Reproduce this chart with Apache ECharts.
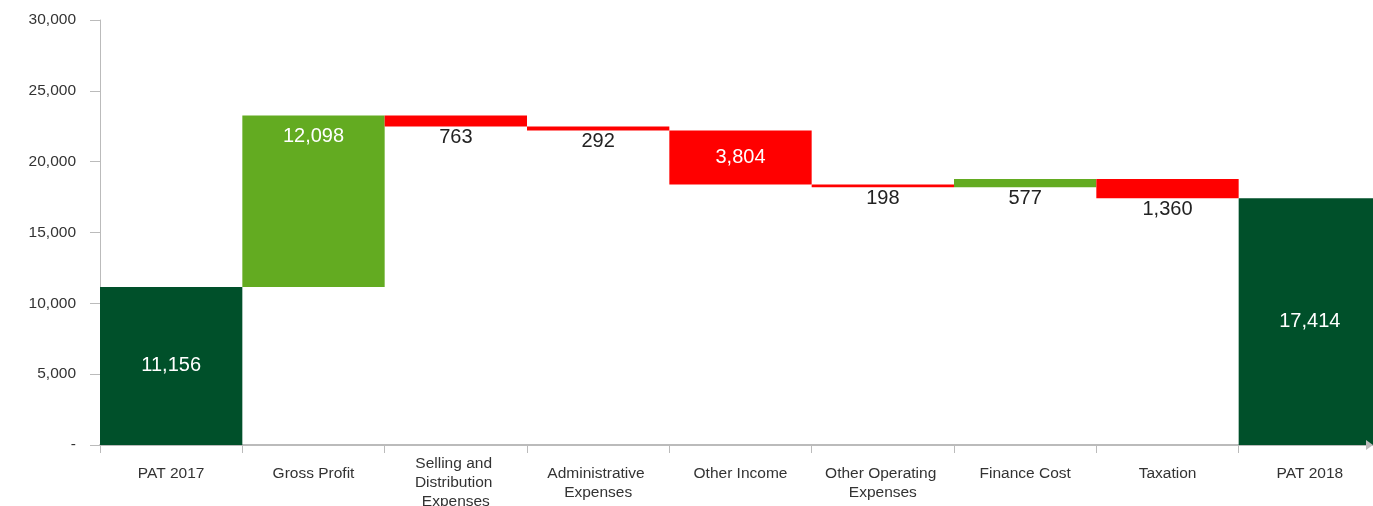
<!DOCTYPE html>
<html>
<head>
<meta charset="utf-8">
<script src="https://cdn.jsdelivr.net/npm/echarts@6/dist/echarts.min.js"></script>
<style>html,body{margin:0;padding:0;background:#fff}#c{width:1373px;height:506px}</style>
</head>
<body>
<div id="c"></div>
<script>
var categories = ['PAT 2017', 'Gross Profit', 'Selling and Distribution Expenses', 'Administrative Expenses', 'Other Income', 'Other Operating Expenses', 'Finance Cost', 'Taxation', 'PAT 2018'];
var changes = [11156, 12098, -763, -292, -3804, -198, 577, -1360, 17414];
var kinds = ['total', 'up', 'down', 'down', 'down', 'down', 'up', 'down', 'total'];
var yTicks = [0, 5000, 10000, 15000, 20000, 25000, 30000];

var colors = { total: '#00502A', up: '#63AB21', down: '#FF0000' };
var labelPlace = ['inside', 'insideTop', 'bottom', 'bottom', 'inside', 'bottom', 'bottom', 'bottom', 'inside'];
var FONT = 'Liberation Sans, Arial, sans-serif';

var base = [], size = [], running = 0;
for (var i = 0; i < changes.length; i++) {
  var v = changes[i];
  if (kinds[i] === 'total') { base.push(0); size.push(v); running = v; }
  else if (v >= 0) { base.push(running); size.push(v); running += v; }
  else { running += v; base.push(running); size.push(-v); }
}

function fmt(n) { return Math.abs(n).toLocaleString('en-US'); }

var barData = size.map(function (s, i) {
  var pos = labelPlace[i];
  var inside = pos !== 'bottom';
  return {
    value: s,
    itemStyle: { color: colors[kinds[i]] },
    label: {
      show: true,
      position: pos,
      distance: pos === 'insideTop' ? 11 : 1,
      color: inside ? '#ffffff' : '#222222',
      fontSize: 20,
      fontFamily: FONT,
      formatter: fmt(changes[i])
    }
  };
});

// the three-line category label starts a line higher, as in the reference
var RAISED = 2;
var catData = categories.map(function (c, i) {
  if (i === RAISED) {
    return { value: c, textStyle: { verticalAlign: 'middle' } };
  }
  return c;
});

var chart = echarts.init(document.getElementById('c'), null, { renderer: 'canvas' });
chart.setOption({
  animation: false,
  grid: { left: 100, top: 20, width: 1281, height: 425, containLabel: false, outerBoundsMode: 'none' },
  xAxis: {
    type: 'category',
    data: catData,
    axisLine: { lineStyle: { color: '#BBBBBB', width: 2 } },
    axisTick: { show: true, alignWithLabel: false, length: 8, lineStyle: { color: '#BBBBBB' } },
    axisLabel: {
      interval: 0,
      margin: 19,
      color: '#333333',
      fontSize: 15.5,
      lineHeight: 19,
      fontFamily: FONT,
      width: 130,
      overflow: 'break',
      formatter: function (value, idx) { return idx === RAISED ? '\n\n' + value : value; }
    }
  },
  yAxis: {
    type: 'value',
    min: yTicks[0],
    max: yTicks[yTicks.length - 1],
    interval: yTicks[1] - yTicks[0],
    splitLine: { show: false },
    axisLine: { show: true, lineStyle: { color: '#BBBBBB' } },
    axisTick: { show: true, length: 10, lineStyle: { color: '#BBBBBB' } },
    axisLabel: {
      margin: 24,
      color: '#333333',
      fontSize: 15.5,
      fontFamily: FONT,
      formatter: function (v) { return v === 0 ? '-' : v.toLocaleString('en-US'); }
    }
  },
  series: [
    {
      type: 'bar', stack: 'w', data: base, silent: true,
      itemStyle: { color: 'rgba(0,0,0,0)' }, barCategoryGap: '0%'
    },
    {
      type: 'bar', stack: 'w', data: barData, barCategoryGap: '0%'
    }
  ],
  graphic: [{
    type: 'polygon',
    shape: { points: [[1366, 440], [1373, 445], [1366, 450]] },
    style: { fill: '#BBBBBB' },
    z: 100
  }]
});
</script>
</body>
</html>
